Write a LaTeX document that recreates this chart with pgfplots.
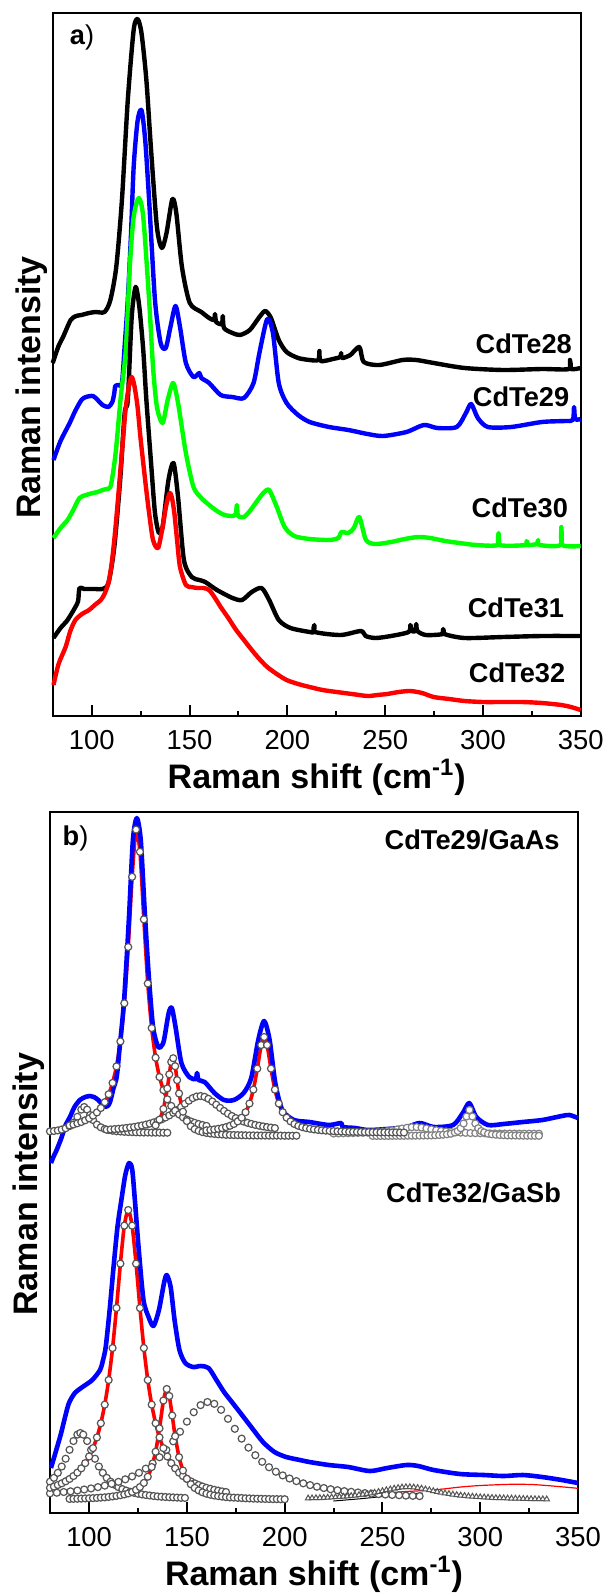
\documentclass[border=0pt]{standalone}
\usepackage{fontspec}
\setmainfont{Liberation Sans}
\usepackage{pgfplots}
\pgfplotsset{compat=1.18}
\definecolor{pblue}{RGB}{0,0,255}
\definecolor{pgreen}{RGB}{0,255,0}
\definecolor{pred}{RGB}{255,0,0}
\definecolor{cgray}{RGB}{85,85,85}
\definecolor{lgray}{RGB}{130,130,130}
\tikzset{lab/.style={font=\bfseries\fontsize{13.6}{16}\selectfont}}
\pgfplotsset{
  ramanax/.style={
    scale only axis, width=264pt,
    xmin=80, xmax=350, ymin=0,
    xtick={100,150,200,250,300,350}, minor x tick num=1,
    ytick=\empty, xtick pos=left,
    tick align=inside, major tick length=5.5pt, minor tick length=2.7pt,
    major tick style={line width=1pt, black}, minor tick style={line width=1pt, black},
    line width=1pt,
    tick label style={font=\fontsize{13.7}{16}\selectfont},
    xticklabel style={yshift=-3.3pt},
    /pgf/number format/assume math mode=true,
    xlabel={Raman shift (cm\textsuperscript{-1})},
    ylabel={Raman intensity},
    xlabel style={font=\bfseries\fontsize{17}{20}\selectfont, at={(axis description cs:0.5,0)}, anchor=base, yshift=-36pt},
    ylabel style={font=\bfseries\fontsize{17}{20}\selectfont, anchor=base},
    clip=false,
  },
  spec/.style={line width=2.2pt, no marks, smooth, tension=0.45, line join=round},
  comp/.style={only marks, mark=*, mark size=1.75pt, mark options={fill=white, draw=cgray, line width=0.6pt}},
  compl/.style={only marks, mark=*, mark size=1.75pt, mark options={fill=white, draw=lgray, line width=0.6pt}},
  fitc/.style={pred, line width=1.8pt, smooth, tension=0.4, mark=*, mark size=1.75pt, mark options={fill=white, draw=cgray, line width=0.6pt}},
}
\begin{document}
\begin{tikzpicture}
\useasboundingbox (0,0) rectangle (303pt,-796.5pt);
% ---------------- panel a ----------------
\begin{axis}[ramanax, at={(26.35pt,-6.35pt)}, anchor=north west, height=351.65pt, ymax=703.3,
  ylabel style={at={(axis description cs:-0.024,0.467)}}]
\addplot[spec, black] coordinates {(80,353) (83,370) (85.3,379) (89.2,396) (92,400) (94.7,401) (98.6,403) (102,404) (106.5,404) (109.5,416) (112.5,449) (115.4,516) (118.4,616) (121.4,686) (123.4,697) (125.4,683) (127.9,636) (130.3,566) (133.3,489) (135.8,468) (138.2,483) (141.2,517) (143.2,503) (146.1,449) (150.1,413) (156,404) (160,398) (162.5,396) (163,402) (163.6,394) (166.5,392) (167,400) (167.6,388) (171.9,383) (175.8,381) (180.8,386) (185.7,399) (188.7,405) (191.6,398) (195.6,376) (199.6,364) (205.5,358) (211.4,356) (215.8,356) (216.4,365) (217,355) (223.3,357) (227,359) (227.5,363) (228,358) (232.2,361) (236.8,369) (239.1,354) (247,351) (258.9,356) (265.9,356) (274.8,353) (290.6,348) (310.4,346) (330.2,347) (344,347) (344.5,356) (345,347) (350,348)};
\addplot[spec, pblue] coordinates {(80.4,256) (84,275) (88.7,293) (91.5,305) (94.7,316) (97,319) (100.6,320) (103,316) (105.5,311) (108.5,309) (110.5,314) (111.5,323) (112,330) (113.5,331) (115.4,333) (116.8,370) (118.4,416) (120,480) (121.4,549) (123.4,595) (125.4,606) (127.3,576) (129.3,516) (132.3,416) (135.2,373) (137.8,368) (140.2,389) (142.8,410) (145.1,389) (148.1,353) (152,339) (155,343) (156,338) (160,333) (165.9,321) (171.9,319) (177.8,318) (182.7,333) (185.7,363) (189.7,397) (192.6,383) (195.6,333) (199.6,313) (205.5,301) (211.4,294) (221.3,289) (231.2,286) (241,282) (249,280) (260.9,284) (269.8,291) (276.7,288) (286.6,289) (291.3,303) (294,312) (297.4,298) (302.5,289) (314.4,289) (330.2,294) (342,295) (346,296) (346.6,309) (347.2,297) (350,297)};
\addplot[spec, pgreen] coordinates {(80.4,178) (84,188) (87.6,196) (90.5,206) (93.7,218) (97,221) (100.6,223) (103,224) (105.5,226) (107.5,227) (109.5,229) (111,245) (112.5,269) (114.8,319) (117.4,366) (119.4,449) (121.4,499) (124,518) (126.3,499) (129.3,416) (131.3,349) (133.3,309) (136.2,293) (138.8,316) (141.6,333) (144.1,313) (148.1,263) (152,229) (156,218) (160,211) (164,205) (167.9,201) (171.9,200) (173.6,202) (174.2,211) (174.8,200) (177.8,199) (180.8,205) (183.8,213) (187.7,223) (190.7,226) (194.6,209) (198.6,189) (203.5,180) (211.4,177) (221.3,176) (226,178) (227.7,184) (231.2,183) (234,188) (236.8,199) (240.2,176) (245.1,172) (253,174) (260,177) (266.9,179) (273,178) (280.7,175) (288,173) (296.5,171) (307.5,171) (308,183) (308.6,171) (322,171) (322.3,175) (322.8,171) (327.5,172) (328.2,176) (329,171) (339.6,171) (340.1,189) (340.7,171) (350,170)};
\addplot[spec, black] coordinates {(80.4,78) (84,88) (87.6,96) (91.6,109) (93,115) (93.7,128) (96,127) (98.6,127) (102,127) (105.5,127) (108.5,133) (111.5,169) (114.5,236) (116.8,303) (118.4,316) (120.4,399) (122.4,429) (124.3,409) (126.3,366) (127.9,316) (130.3,253) (132.3,203) (134.3,183) (136.2,189) (139.2,236) (141.8,253) (144.1,219) (147.1,156) (151.1,139) (155,136) (158,134) (164,126) (171.9,118) (176.8,116) (181.8,124) (186.8,128) (190.7,116) (195.6,96) (201.6,88) (211.4,84) (213.6,84) (213.8,91) (214.2,84) (227.3,81) (237.6,85) (240,80) (245.1,78) (253,80) (262,84) (262.9,91) (263.6,85) (265.5,85) (265.9,92) (266.5,85) (270.8,81) (279.5,82) (279.7,87) (280.3,82) (290.6,78) (310.4,79) (330.2,80) (350,80)};
\addplot[spec, pred] coordinates {(80.4,31) (83,52) (86.6,69) (89,85) (91.6,96) (95,102) (98.6,106) (101.5,111) (104.6,116) (106.5,122) (108.5,133) (110,150) (111.5,176) (113,208) (114.5,243) (116,278) (117.4,309) (119,330) (120.4,339) (121.8,330) (123.4,309) (124.8,280) (126.3,253) (127.8,227) (129.3,203) (131.3,176) (133.9,168) (136.2,189) (138,210) (139.8,223) (141,218) (142.2,203) (143.6,176) (145.1,149) (148.1,131) (151,129) (154,128) (157,128) (160,126) (163,118) (165.9,109) (169.8,98) (173.8,86) (177.8,76) (181.8,66) (185.7,57) (189.7,49) (194.6,42) (199.6,36) (205.5,32) (211.4,29) (218,26) (225.2,24) (233,22) (241,20) (246,21) (251,22) (257,24) (262.9,25) (268.9,23) (274.8,19) (282.7,17) (290.6,15) (300,14) (310.4,14) (320,14) (330.2,13) (340.1,11) (345,9) (350,6)};
\node[lab, anchor=base east] at (axis cs:349.4,362) {CdTe28};
\node[lab, anchor=base east] at (axis cs:348,309) {CdTe29};
\node[lab, anchor=base east] at (axis cs:347.4,199) {CdTe30};
\node[lab, anchor=base east] at (axis cs:345.4,99) {CdTe31};
\node[lab, anchor=base east] at (axis cs:346,34) {CdTe32};
\node[font=\fontsize{13.6}{16}\selectfont, anchor=base west, inner sep=0pt] at (axis cs:88.3,671) {\textbf{a})};
\end{axis}
% ---------------- panel b ----------------
\begin{axis}[ramanax, at={(25pt,-406pt)}, anchor=north west, height=350.5pt, ymax=701,
  ylabel style={at={(axis description cs:-0.024,0.469)}}]
% upper components
\addplot[comp] coordinates {(80,381.6) (82,382) (84,382.6) (86,383.5) (88,384.8) (90,386.9) (92,390.4) (94,396.2) (96,403.4) (97.5,406) (99,403.4) (100.5,398) (102,393) (104,388.4) (106,385.7) (108,384) (110,383) (112,382.3) (114,381.8) (116,381.5) (118,381.2) (120,381) (122,380.9) (124,380.7) (126,380.6) (128,380.5) (130,380.5) (132,380.4) (134,380.4) (136,380.4) (138,380.3) (140,380.3)};
\addplot[comp] coordinates {(109,383.3) (111,383.6) (113,383.9) (115,384.2) (117,384.6) (119,385.1) (121,385.6) (123,386.1) (125,386.8) (127,387.5) (129,388.4) (131,389.4) (133,390.6) (135,392) (137,393.6) (139,395.5) (141,397.6) (143,400.2) (145,403) (147,406.1) (149,409.3) (151,412.3) (153,414.9) (155,416.5) (157,417) (159,416.2) (161,414.2) (163,411.5) (165,408.3) (167,405.1) (169,402.1) (171,399.4) (173,397) (175,394.9) (177,393.1) (179,391.5) (181,390.2) (183,389.1) (185,388.1) (187,387.3) (189,386.6) (191,385.9) (193,385.4) (195,384.9)};
\addplot[compl] coordinates {(225,379.5) (227.5,379.6) (230,379.7) (232.5,379.8) (235,379.9) (237.5,380.05) (240,380.2) (242.5,380.4) (245,380.7) (247.5,381) (250,381.4) (252.5,381.9) (255,382.7) (257.5,383.5) (260,384.4) (262.5,385.2) (265,385.8) (267.5,385.9) (270,385.4) (272.5,384.6) (275,383.7) (277.5,382.8) (280,382.1) (282.5,381.5) (285,381.1) (287.5,380.7) (290,380.4) (292.5,380.2) (295,380) (297.5,379.9) (300,379.8) (302.5,379.7) (305,379.6) (307.5,379.55) (310,379.5) (312.5,379.45) (315,379.4) (317.5,379.4) (320,379.35) (322.5,379.3) (325,379.3) (327.5,379.3) (330,379.3)};
\addplot[compl] coordinates {(245,377.1) (247,377.1) (249,377.1) (251,377.1) (253,377.1) (255,377.15) (257,377.2) (259,377.2) (261,377.25) (263,377.3) (265,377.3) (267,377.35) (269,377.4) (271,377.5) (273,377.55) (275,377.6) (277,377.8) (279,378) (281,378.3) (283,378.7) (285,379.3) (287,380.6) (288.5,382) (290,384.8) (291.5,389.5) (293,396.5) (294.5,403) (296,396.5) (297.5,389.5) (299,384.8) (300.5,382) (302,380.6) (304,379.3) (306,378.7) (308,378.3) (310,378) (312,377.8) (314,377.6) (316,377.55) (318,377.5) (320,377.4) (322,377.35) (324,377.3) (326,377.3) (328,377.25) (330,377.2)};
\addplot[fitc] coordinates {(90,387.6) (92,388.5) (94,389.7) (96,391) (98,392.7) (100,394.7) (102,397.4) (104,400.6) (106,405) (108,410.8) (110,418.8) (112,430.1) (114,446.6) (116,471.6) (118,509.7) (120,566) (122,636.2) (124,683.4) (126,661.2) (128,593.6) (130,529.5) (132,484.9) (134,455.3) (136,436) (138,422.9) (140,413.7) (142,407.1) (144,402.3) (146,398.6) (148,395.7) (150,393.4) (152,391.6) (154,390.2) (156,389) (158,388) (160,387.1)};
\addplot[fitc] coordinates {(134,387.7) (136,393.4) (138,404.1) (140,424.6) (141,438.7) (142,451.1) (143,454.8) (144,446.8) (145,432.9) (146,419.5) (148,401.3) (150,391.9) (152,386.8) (154,383.9) (156,382.1) (158,380.9) (160,380.1) (162,379.5) (164,379.1) (166,378.7) (168,378.5) (170,378.2) (172,378.1) (174,378) (176,377.9) (178,377.8) (180,377.7) (182,377.6) (184,377.6) (186,377.5) (188,377.5) (190,377.5) (192,377.4) (194,377.4) (196,377.4) (198,377.4) (200,377.3) (202,377.3) (204,377.3) (206,377.3)};
\addplot[fitc] coordinates {(160,382.7) (162,383.1) (164,383.6) (166,384.2) (168,384.9) (170,385.9) (172,387.2) (174,389) (176,391.6) (178,395.3) (180,400.8) (182,409.5) (184,423.4) (186,444.4) (188,468) (189.5,476) (191,468) (193,444.4) (195,423.4) (197,409.5) (199,400.8) (201,395.3) (203,391.6) (205,389) (207,387.2) (209,385.9) (211,384.9) (213,384.2) (215,383.6) (217,383.1) (219,382.7) (221,382.4) (223,382.1) (225,381.9) (227,381.7) (229,381.5) (231,381.4) (233,381.2) (235,381.2) (237,381.1) (239,381) (241,380.9) (243,380.9) (245,380.8) (247,380.8) (249,380.7) (251,380.7) (253,380.6) (255,380.6) (257,380.6) (259,380.5) (261,380.5)};
% lower components
\addplot[comp] coordinates {(80,31.3) (82,35.2) (84,40.2) (86,46.5) (88,54.3) (90,63.2) (92,72) (94,78.4) (95.5,80) (97,78.4) (99,72) (101,63.2) (103,54.3) (105,46.5) (107,40.2) (109,35.2) (111,31.3) (113,28.3) (115,25.9) (117,23.9) (119,22.4) (121,21.2) (123,20.2) (125,19.3) (127,18.6) (129,18) (131,17.5) (133,17) (135,16.6) (137,16.3) (139,16) (141,15.8) (143,15.6) (145,15.4) (147,15.2) (149,15.1)};
\addplot[comp] coordinates {(80,19.7) (83.5,20.3) (87,21) (90.5,21.7) (94,22.5) (97.5,23.5) (101,24.6) (104.5,25.9) (108,27.4) (111.5,29.2) (115,31.2) (118.5,33.7) (122,36.6) (125.5,40.2) (129,44.4) (132.5,49.6) (136,55.8) (139.5,63.1) (143,71.7) (146.5,81.3) (150,91.4) (153.5,100.8) (157,107.9) (160.5,111) (164,109.2) (167.5,103.2) (171,94.2) (174.5,84.2) (178,74.4) (181.5,65.4) (185,57.8) (188.5,51.2) (192,45.8) (195.5,41.3) (199,37.6) (202.5,34.5) (206,31.9) (209.5,29.7) (213,27.9) (216.5,26.3) (220,25) (223.5,23.8) (227,22.8) (230.5,21.9) (234,21.2) (237.5,20.5) (241,19.9) (244.5,19.4) (248,18.9) (251.5,18.5) (255,18.1) (258.5,17.8) (262,17.4) (265.5,17.2) (269,16.9)};
\addplot[fitc] coordinates {(80,25.2) (82,26.5) (84,28) (86,29.7) (88,31.7) (90,34.1) (92,37) (94,40.4) (96,44.7) (98,49.9) (100,56.5) (102,64.9) (104,75.6) (106,89.8) (108,108.4) (110,133) (112,165) (114,205) (116,249.4) (118,287.4) (120,303) (122,287.4) (124,249.4) (126,205) (128,165) (130,133) (132,108.4) (134,89.8) (136,75.6) (138,64.9) (140,56.5) (142,49.9) (144,44.7) (146,40.4) (148,37) (150,34.1) (152,31.7) (154,29.7) (156,28) (158,26.5) (160,25.2) (162,24.2) (164,23.2) (166,22.4) (168,21.6) (170,21)};
\addplot[fitc] coordinates {(90,14.1) (92,14.2) (94,14.3) (96,14.4) (98,14.6) (100,14.7) (102,14.9) (104,15.1) (106,15.4) (108,15.7) (110,16.1) (112,16.6) (114,17.1) (116,17.8) (118,18.6) (120,19.6) (122,21.1) (124,23.2) (126,26) (128,30.1) (130,36.3) (132,46) (134,61.3) (136,84.7) (138,112.5) (139.7,124) (141,117) (142.5,97.5) (144,76.8) (146,55.8) (148,42.5) (150,34.2) (152,28.8) (154,25.1) (156,22.6) (158,20.7) (160,19.3) (162,18.3) (164,17.5) (166,16.9) (168,16.4) (170,15.9) (172,15.6) (174,15.4) (176,15.2) (178,15) (180,14.7) (182,14.6) (184,14.4) (186,14.3) (188,14.2) (190,14.1) (192,14) (194,13.9) (196,13.9) (198,13.8) (200,13.8)};
\addplot[only marks, mark=triangle*, mark size=1.6pt, mark options={fill=white, draw=cgray, line width=0.5pt}] coordinates {(212,14.7) (214,14.9) (216,15) (218,15.1) (220,15.3) (222,15.5) (224,15.7) (226,15.9) (228,16.2) (230,16.5) (232,16.8) (234,17.2) (236,17.6) (238,18.1) (240,18.6) (242,19.2) (244,19.8) (246,20.5) (248,21.3) (250,22.1) (252,23) (254,23.8) (256,24.6) (258,25.2) (260,25.7) (262,26) (264,26) (266,25.7) (268,25.2) (270,24.6) (272,23.8) (274,23) (276,22.1) (278,21.3) (280,20.5) (282,19.8) (284,19.2) (286,18.6) (288,18.1) (290,17.6) (292,17.2) (294,16.8) (296,16.5) (298,16.2) (300,15.9) (302,15.7) (304,15.5) (306,15.3) (308,15.1) (310,15) (312,14.9) (314,14.7) (316,14.6) (318,14.5) (320,14.4) (322,14.3) (324,14.2) (326,14.1) (328,14) (330,13.9) (332,13.9) (334,13.8)};
\addplot[black, line width=0.5pt, smooth] coordinates {(224.9,12) (240,14.5) (255,17.5) (270.5,20)};
\addplot[pred, line width=0.6pt, smooth] coordinates {(213.8,15.3) (224.9,16.5) (240,18.5) (250.4,19.7) (262,21.5) (276,23) (290,26) (300,27.5) (315.2,28.7) (325,28.6) (330.6,28) (340,26.5) (350,24.7)};
% spectra
\addplot[spec, pblue, line width=2.3pt] coordinates {(80.5,350) (81.7,356) (83.4,363) (86,376) (88,388) (90.2,396) (92.5,406) (95.3,413) (98,416) (100.5,417) (102.5,416) (104.7,413) (106.5,409) (108.1,406) (109.5,407) (110.7,411) (112.5,425) (114.1,436) (115.5,463) (117.9,513) (120.4,596) (122.4,673) (124.4,695) (126.4,673) (128.4,603) (130.4,540) (132.7,486) (135.3,466) (137,467) (138.3,473) (140.7,500) (142.3,505) (144.2,486) (147.2,450) (151.2,436) (154.5,434) (155.2,440) (156,433) (159.1,431) (164.1,420) (169,413) (174,413) (179,420) (182.9,435) (186.5,473) (189.5,492) (192.3,473) (195.2,430) (198.8,403) (204.8,393) (212.7,391) (222.6,388) (229,390) (229.6,386) (236,385) (242.5,383) (252.4,384) (262.3,386) (269.2,390) (276.2,386) (286.1,388) (291.1,400) (294.4,410) (298,396) (304,388) (311.9,389) (321.8,391) (331.7,393) (341.7,397) (345.6,398) (350,395)};
\addplot[spec, pblue, line width=2.3pt] coordinates {(80.5,45) (81.7,53) (83.5,65) (85.7,80) (87.7,96) (89.7,110) (92.7,120) (96.6,126) (101.6,133) (105.6,143) (107,152) (108.5,166) (110.5,203) (112.5,246) (114.5,286) (116.5,313) (118.5,338) (120.4,350) (122,344) (123.4,313) (125.4,263) (127.8,213) (130.4,196) (132.9,187) (135.7,203) (138.3,230) (139.7,238) (141.7,226) (143.7,193) (146.2,163) (149.2,150) (153.2,146) (157.1,147) (161.1,145) (165.1,133) (169,121) (173,111) (177,101) (182.9,86) (188.9,71) (194.8,61) (200.8,56) (207.8,53) (212.7,51) (222.6,48) (232.5,46) (243.5,42) (252.4,45) (262.3,48) (268.3,47) (276.2,43) (289.7,39) (302,38) (311.9,37) (321.8,38) (331.7,36) (341.7,33) (350,30)};
\node[lab, anchor=base east] at (axis cs:344.5,664) {CdTe29/GaAs};
\node[lab, anchor=base east] at (axis cs:345.2,311) {CdTe32/GaSb};
\node[font=\fontsize{13.6}{16}\selectfont, anchor=base west, inner sep=0pt] at (axis cs:86,668) {\textbf{b})};
\end{axis}
\end{tikzpicture}
\end{document}
